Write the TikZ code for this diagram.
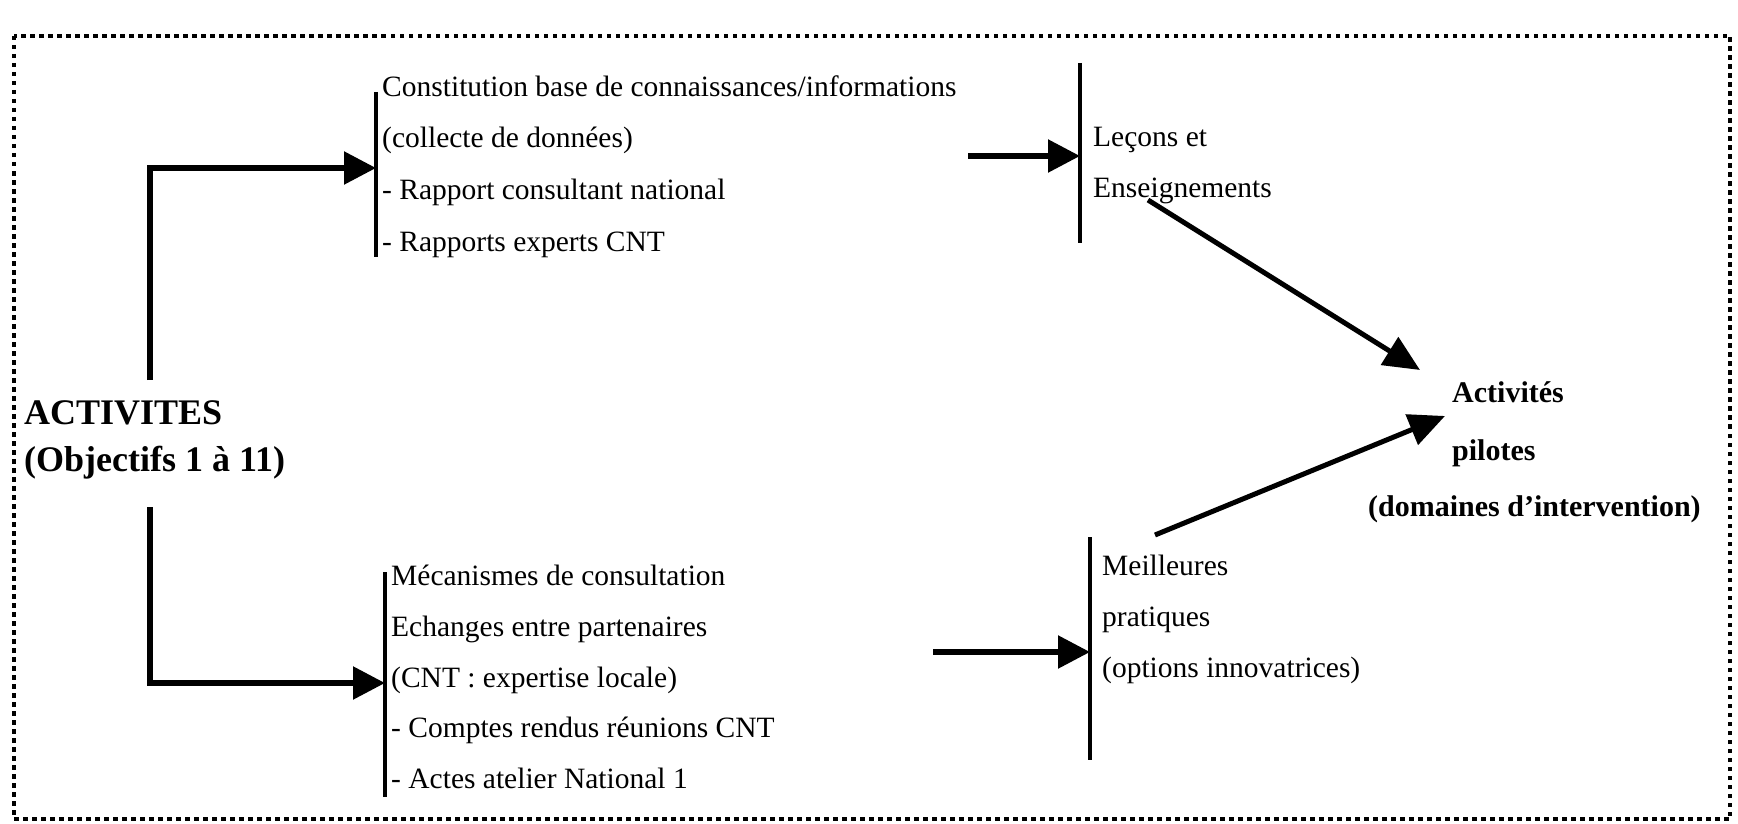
\documentclass[tikz,border=0pt]{standalone}
\usepackage{fontspec}
\setmainfont{Liberation Serif}
\usetikzlibrary{arrows.meta}
\begin{document}
\begin{tikzpicture}[x=1pt,y=-1pt,
  txt/.style={anchor=base west,inner sep=0pt,font=\fontsize{29.5}{33}\selectfont},
  btxt/.style={anchor=base west,inner sep=0pt,font=\fontsize{36}{40}\selectfont\bfseries},
  ptxt/.style={anchor=base west,inner sep=0pt,font=\fontsize{30}{34}\selectfont\bfseries},
  bar/.style={line width=4pt},
  arr/.style={line width=5.5pt,-{Triangle[length=32pt,width=32pt]}},
  darr/.style={line width=5pt,-{Triangle[length=36pt,width=32pt]}},
  frame/.style={line width=4.5pt,dash pattern=on 4.5pt off 4.5pt}]
\useasboundingbox (0,0) rectangle (1738,824);
\draw[frame] (14,36) rectangle (1730,819);

% left block
\node[btxt] (act) at (24,424) {ACTIVITES};
\node[btxt] (obj) at (24,471) {(Objectifs 1 à 11)};
\coordinate (vtop) at (150,380);
\coordinate (vbot) at (150,507);

% top bracket
\coordinate (b1t) at (376,92);
\coordinate (b1b) at (376,257);
\coordinate (b1in) at (376,168);
\draw[bar] (b1t) -- (b1b);
\node[txt] (t1) at (382,97) {Constitution base de connaissances/informations};
\node[txt] (t2) at (382,148) {(collecte de données)};
\node[txt] (t3) at (382,199) {- Rapport consultant national};
\node[txt] (t4) at (382,251) {- Rapports experts CNT};

% bottom bracket
\coordinate (b2t) at (385,572);
\coordinate (b2b) at (385,797);
\coordinate (b2in) at (385,683);
\draw[bar] (b2t) -- (b2b);
\node[txt] (u1) at (391,585) {Mécanismes de consultation};
\node[txt] (u2) at (391,636) {Echanges entre partenaires};
\node[txt] (u3) at (391,687) {(CNT : expertise locale)};
\node[txt] (u4) at (391,737) {- Comptes rendus réunions CNT};
\node[txt] (u5) at (391,788) {- Actes atelier National 1};

\draw[arr] (vtop) |- (b1in);
\draw[arr] (vbot) |- (b2in);

% Lecons bracket
\coordinate (b3t) at (1080,63);
\coordinate (b3b) at (1080,243);
\coordinate (b3in) at (1080,156);
\coordinate (b3src) at (968,156);
\draw[bar] (b3t) -- (b3b);
\node[txt] (l1) at (1093,147) {Leçons et};
\node[txt] (l2) at (1093,197) {Enseignements};
\draw[arr] (b3src) -- (b3in);

% Meilleures bracket
\coordinate (b4t) at (1090,537);
\coordinate (b4b) at (1090,760);
\coordinate (b4in) at (1090,652);
\coordinate (b4src) at (933,652);
\draw[bar] (b4t) -- (b4b);
\node[txt] (m1) at (1102,575) {Meilleures};
\node[txt] (m2) at (1102,626) {pratiques};
\node[txt] (m3) at (1102,677) {(options innovatrices)};
\draw[arr] (b4src) -- (b4in);

% Activites pilotes
\node[ptxt] (p1) at (1452,402) {Activités};
\node[ptxt] (p2) at (1452,460) {pilotes};
\node[ptxt] (p3) at (1368,516) {(domaines d’intervention)};

\coordinate (d1s) at (1148,200);
\coordinate (d1e) at (1420,370);
\coordinate (d2s) at (1155,535);
\coordinate (d2e) at (1445,416);
\draw[darr] (d1s) -- (d1e);
\draw[darr] (d2s) -- (d2e);
\end{tikzpicture}
\end{document}
